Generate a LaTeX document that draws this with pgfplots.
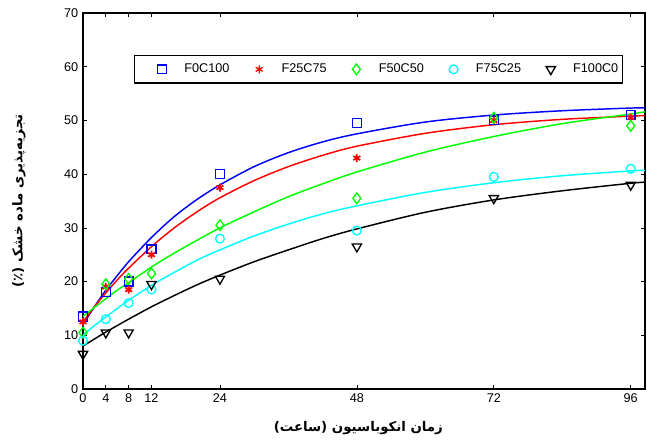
\documentclass[border=0pt]{standalone}
\usepackage{fontspec}
\setmainfont{Liberation Sans}
\newfontfamily\arabicfont[Script=Arabic]{DejaVu Sans}
\TeXXeTstate=1
\usepackage{pgfplots}
\pgfplotsset{compat=1.18}

% observed means
\pgfplotstableread{
t   fa    fb    fc    fd    fe
0   13.5  12.5  10.5  9.0   6.5
4   18.0  19.0  19.5  13.0  10.5
8   20.0  18.5  20.5  16.0  10.5
12  26.0  25.0  21.5  18.5  19.5
24  40.0  37.5  30.5  28.0  20.5
48  49.5  43.0  35.5  29.5  26.5
72  50.0  50.0  50.5  39.5  35.5
96  51.0  50.5  49.0  41.0  38.0
}\obs

% fitted curves
\pgfplotstableread{
t    fa    fb    fc    fd    fe
0    12.0  12.5  13.5  10.0  8.0
2    15.3  15.3  15.2  11.8  9.3
4    18.4  17.9  16.8  13.4  10.6
6    21.1  20.3  18.4  15.0  11.8
8    23.7  22.5  19.8  16.5  13.0
12   28.2  26.5  22.7  19.3  15.3
16   32.1  30.0  25.3  21.7  17.4
20   35.3  33.0  27.7  24.0  19.4
24   38.0  35.6  30.0  25.9  21.2
30   41.4  38.8  33.0  28.5  23.7
36   44.0  41.4  35.8  30.7  25.9
42   46.0  43.5  38.2  32.6  28.0
48   47.5  45.2  40.4  34.1  29.8
60   49.7  47.6  44.1  36.6  32.9
72   51.0  49.2  47.0  38.4  35.2
84   51.8  50.2  49.4  39.7  36.9
96   52.3  50.8  51.2  40.6  38.3
98.5 52.3  50.9  51.6  40.7  38.5
}\fit

\definecolor{mblue}{RGB}{0,0,255}
\definecolor{mred}{RGB}{255,0,0}
\definecolor{mgreen}{RGB}{0,255,0}
\definecolor{mcyan}{RGB}{0,255,255}

\begin{document}
\begin{tikzpicture}
\begin{axis}[
    scale only axis,
    width=421.5pt, height=282pt,
    xmin=0, xmax=98.5, ymin=0, ymax=70,
    xtick={0,4,8,12,24,48,72,96},
    ytick={0,10,...,70},
    tick align=inside,
    major tick length=3pt,
    axis line style={line width=0.8pt},
    tick style={black, line width=0.5pt},
    tick label style={font=\fontsize{9.5}{11}\selectfont},
    /pgf/number format/assume math mode=true,
    xlabel={\arabicfont\bfseries\beginR زمان انکوباسیون (ساعت)\endR},
    ylabel={\arabicfont\bfseries\beginR تجزیه‌پذیری ماده خشک (٪)\endR},
    xlabel style={at={(axis description cs:0.49,-0.104)}, anchor=center, font=\fontsize{10}{12}\selectfont},
    ylabel style={at={(axis description cs:-0.114,0.5)}, anchor=center, font=\fontsize{10}{12}\selectfont},
    legend columns=5,
    legend style={at={(axis description cs:0.091,0.888)}, anchor=north west,
        draw=black, line width=0.8pt, font=\fontsize{9.5}{11}\selectfont,
        inner ysep=4.2pt, inner xsep=1.5pt,
        /tikz/every even column/.append style={column sep=1.3pt}},
    legend image code/.code={%
        \path[draw=none, fill=none] (-19pt,0) -- (14.8pt,0);
        \draw[#1, line width=1pt] plot coordinates {(0pt,0pt)};},
]
\addplot[only marks, mark=square, mark size=3.3pt, mblue, line width=1pt] table[x=t,y=fa] {\obs};
\addplot[only marks, mark=asterisk, mark size=3pt, mred, line width=1.3pt] table[x=t,y=fb] {\obs};
\addplot[only marks, mark=diamond, mark size=4pt, mgreen, line width=1pt] table[x=t,y=fc] {\obs};
\addplot[only marks, mark=o, mark size=3.3pt, mcyan, line width=1pt] table[x=t,y=fd] {\obs};
\addplot[only marks, mark=triangle, mark size=4pt, black, line width=1pt, mark options={rotate=180}] table[x=t,y=fe] {\obs};
\legend{F0C100,F25C75,F50C50,F75C25,F100C0}

\addplot[mblue, line width=1.1pt, smooth, no marks, forget plot] table[x=t,y=fa] {\fit};
\addplot[mred, line width=1.1pt, smooth, no marks, forget plot] table[x=t,y=fb] {\fit};
\addplot[mgreen, line width=1.1pt, smooth, no marks, forget plot] table[x=t,y=fc] {\fit};
\addplot[mcyan, line width=1.1pt, smooth, no marks, forget plot] table[x=t,y=fd] {\fit};
\addplot[black, line width=1.1pt, smooth, no marks, forget plot] table[x=t,y=fe] {\fit};

\coordinate (bl) at (rel axis cs:0,0);
\coordinate (tr) at (rel axis cs:1,1);
\end{axis}
\pgfresetboundingbox
\path ([shift={(-62.25pt,-41.25pt)}]bl) rectangle ([shift={(1.5pt,9.75pt)}]tr);
\end{tikzpicture}
\end{document}
